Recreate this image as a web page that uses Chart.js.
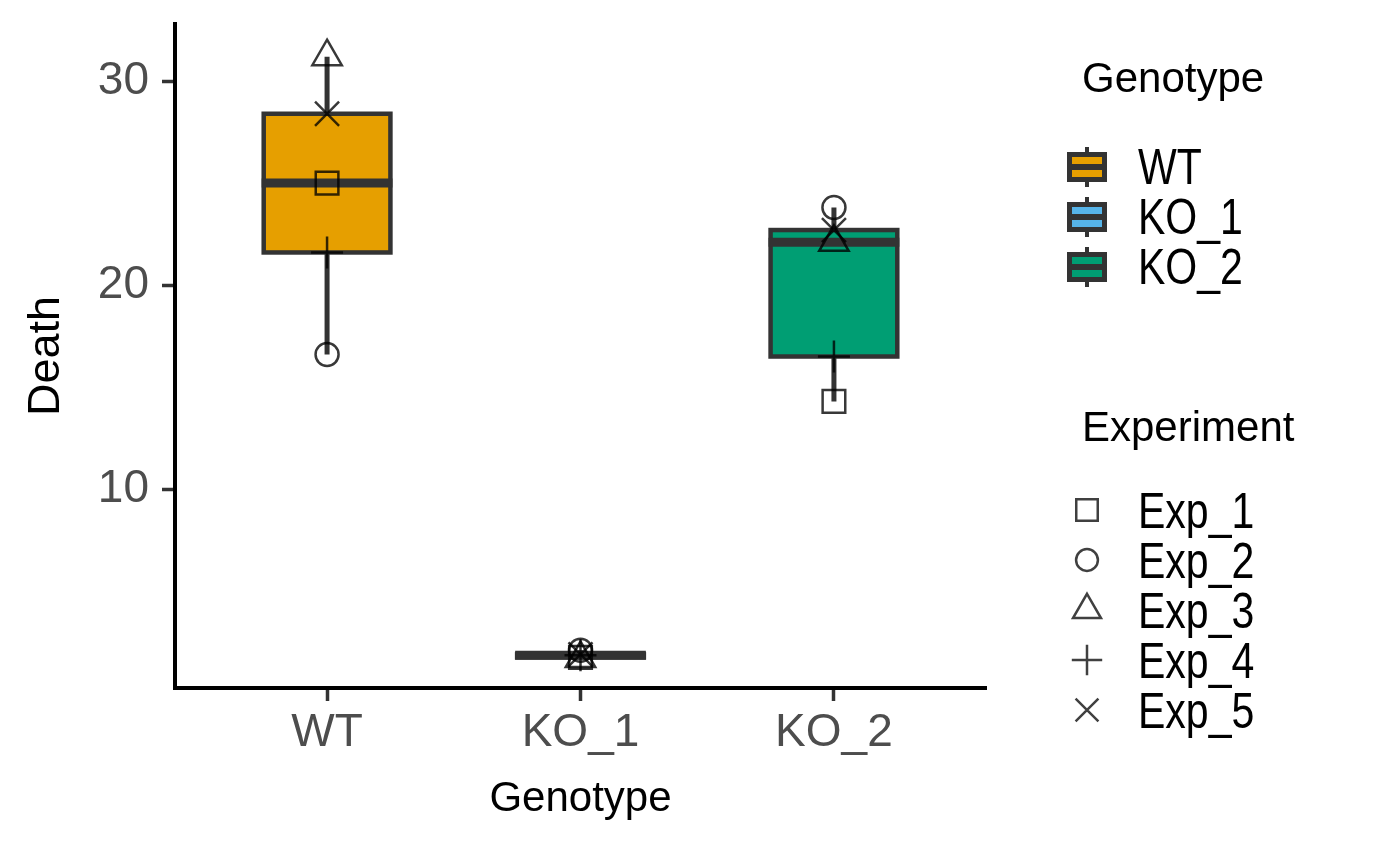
<!DOCTYPE html>
<html>
<head>
<meta charset="utf-8">
<script src="https://cdn.jsdelivr.net/npm/chart.js@4.4.0/dist/chart.umd.min.js"></script>
<style>
  body { margin: 0; background: #fff; }
  #wrap { width: 1400px; height: 866px; }
</style>
</head>
<body>
<div id="wrap"><canvas id="chart" width="1400" height="866"></canvas></div>
<script>
// data
const genotypes = ["WT", "KO_1", "KO_2"];
const experiments = ["Exp_1", "Exp_2", "Exp_3", "Exp_4", "Exp_5"];
const wtDeath = [25.0, 16.6, 31.2, 21.6, 28.4];
const ko1Death = [1.75, 2.1, 1.7, 1.85, 1.9];
const ko2Death = [14.3, 23.8, 22.1, 16.5, 22.7];
const yTicks = [10, 20, 30];

const deathByGenotype = [wtDeath, ko1Death, ko2Death];
const boxColors = ["#E69F00", "#56B4E9", "#009E73"];
const shapeStyles = [
  { pointStyle: "rect", radius: 16 },
  { pointStyle: "circle", radius: 11.5 },
  { pointStyle: "triangle", radius: 17 },
  { pointStyle: "cross", radius: 16 },
  { pointStyle: "crossRot", radius: 17 },
];
const darkLine = "#333333";
const pointColor = "rgba(0,0,0,0.78)";
const fontFamily = "'Liberation Sans', Arial, sans-serif";

Chart.defaults.font.family = fontFamily;

// quantile type 7 (same as R default)
function quantile(values, p) {
  const s = [...values].sort((a, b) => a - b);
  const h = (s.length - 1) * p;
  const lo = Math.floor(h);
  const hi = Math.min(lo + 1, s.length - 1);
  return s[lo] + (h - lo) * (s[hi] - s[lo]);
}

function boxStats(values) {
  const q1 = quantile(values, 0.25);
  const q3 = quantile(values, 0.75);
  const med = quantile(values, 0.5);
  const iqr = q3 - q1;
  const inRange = values.filter(v => v >= q1 - 1.5 * iqr && v <= q3 + 1.5 * iqr);
  return { q1, q3, med, lo: Math.min(...inRange), hi: Math.max(...inRange) };
}

const boxplotPlugin = {
  id: "boxplot",
  beforeDatasetsDraw(chart) {
    const ctx = chart.ctx;
    const xs = chart.scales.x;
    const ys = chart.scales.y;
    ctx.save();
    deathByGenotype.forEach((vals, i) => {
      const st = boxStats(vals);
      const cx = xs.getPixelForValue(i + 1);
      const x0 = xs.getPixelForValue(i + 1 - 0.25);
      const x1 = xs.getPixelForValue(i + 1 + 0.25);
      ctx.strokeStyle = darkLine;
      ctx.lineCap = "butt";
      // whiskers
      ctx.lineWidth = 5;
      ctx.beginPath();
      ctx.moveTo(cx, ys.getPixelForValue(st.hi));
      ctx.lineTo(cx, ys.getPixelForValue(st.q3));
      ctx.moveTo(cx, ys.getPixelForValue(st.q1));
      ctx.lineTo(cx, ys.getPixelForValue(st.lo));
      ctx.stroke();
      // box
      const yTop = ys.getPixelForValue(st.q3);
      const yBot = ys.getPixelForValue(st.q1);
      ctx.fillStyle = boxColors[i];
      ctx.fillRect(x0, yTop, x1 - x0, yBot - yTop);
      ctx.lineWidth = 4.5;
      ctx.strokeRect(x0, yTop, x1 - x0, yBot - yTop);
      // median
      const ym = ys.getPixelForValue(st.med);
      ctx.lineWidth = 9;
      ctx.beginPath();
      ctx.moveTo(x0 - 2, ym);
      ctx.lineTo(x1 + 2, ym);
      ctx.stroke();
    });
    ctx.restore();
  },
};

// legend labels in the reference use a condensed face
function narrowText(ctx, text, x, y) {
  ctx.save();
  ctx.translate(x, y);
  ctx.scale(0.82, 1);
  ctx.fillText(text, 0, 0);
  ctx.restore();
}

const legendPlugin = {
  id: "sideLegend",
  afterDraw(chart) {
    const ctx = chart.ctx;
    ctx.save();
    ctx.textAlign = "left";
    ctx.textBaseline = "alphabetic";
    ctx.fillStyle = "#000";
    ctx.font = "42px " + fontFamily;
    ctx.fillText("Genotype", 1082, 92);
    ctx.fillText("Experiment", 1082, 441);

    ctx.font = "50px " + fontFamily;
    genotypes.forEach((g, i) => {
      const cy = 167 + i * 50;
      const cx = 1087;
      ctx.strokeStyle = darkLine;
      ctx.lineWidth = 4;
      ctx.beginPath();
      ctx.moveTo(cx, cy - 20);
      ctx.lineTo(cx, cy + 20);
      ctx.stroke();
      ctx.fillStyle = boxColors[i];
      ctx.fillRect(1069.5, cy - 12.5, 35, 25);
      ctx.lineWidth = 5;
      ctx.strokeRect(1069.5, cy - 12.5, 35, 25);
      ctx.lineWidth = 6;
      ctx.beginPath();
      ctx.moveTo(1069, cy);
      ctx.lineTo(1105, cy);
      ctx.stroke();
      ctx.fillStyle = "#000";
      narrowText(ctx, g, 1138, cy + 17);
    });

    experiments.forEach((e, i) => {
      const cy = 510 + i * 50;
      const s = shapeStyles[i];
      ctx.strokeStyle = "rgba(0,0,0,0.75)";
      ctx.fillStyle = "rgba(0,0,0,0)";
      ctx.lineWidth = 2.5;
      Chart.helpers.drawPoint(ctx, {
        pointStyle: s.pointStyle,
        radius: s.radius * 0.95,
        rotation: 0,
        borderWidth: 2.5,
      }, 1087, cy);
      ctx.fillStyle = "#000";
      narrowText(ctx, e, 1138, cy + 18);
    });
    ctx.restore();
  },
};

const datasets = experiments.map((e, j) => ({
  label: e,
  data: deathByGenotype.map((vals, i) => ({ x: i + 1, y: vals[j] })),
  pointStyle: shapeStyles[j].pointStyle,
  pointRadius: shapeStyles[j].radius,
  pointBorderWidth: 2.5,
  pointBorderColor: pointColor,
  pointBackgroundColor: "rgba(0,0,0,0)",
  pointHoverRadius: shapeStyles[j].radius,
}));

new Chart(document.getElementById("chart"), {
  type: "scatter",
  data: { datasets },
  plugins: [boxplotPlugin, legendPlugin],
  options: {
    responsive: false,
    animation: false,
    events: [],
    layout: { padding: { top: 24, right: 414, left: 0, bottom: 0 } },
    plugins: { legend: { display: false }, tooltip: { enabled: false } },
    scales: {
      x: {
        type: "linear",
        min: 0.4,
        max: 3.6,
        afterBuildTicks: (scale) => {
          scale.ticks = genotypes.map((g, i) => ({ value: i + 1 }));
        },
        afterFit: (scale) => {
          scale.height = 178;
          scale.paddingLeft = 0;
          scale.paddingRight = 0;
        },
        ticks: {
          callback: (v) => genotypes[v - 1],
          color: "#4D4D4D",
          font: { size: 46, lineHeight: 1 },
          padding: 9,
          maxRotation: 0,
          autoSkip: false,
        },
        grid: {
          drawOnChartArea: false,
          drawTicks: true,
          tickLength: 13,
          tickWidth: 3.5,
          tickColor: darkLine,
        },
        border: { display: true, color: "#000", width: 4 },
        title: {
          display: true,
          text: "Genotype",
          color: "#000",
          font: { size: 42, lineHeight: 1.2 },
          padding: { top: 0, bottom: 41 },
        },
      },
      y: {
        min: 0.25,
        max: 32.8,
        afterBuildTicks: (scale) => {
          scale.ticks = yTicks.map(v => ({ value: v }));
        },
        afterFit: (scale) => {
          scale.width = 175;
          scale.paddingTop = 0;
          scale.paddingBottom = 0;
        },
        ticks: {
          color: "#4D4D4D",
          font: { size: 46, lineHeight: 1 },
          padding: 13,
        },
        grid: {
          drawOnChartArea: false,
          drawTicks: true,
          tickLength: 13,
          tickWidth: 3.5,
          tickColor: darkLine,
        },
        border: { display: true, color: "#000", width: 4 },
        title: {
          display: true,
          text: "Death",
          color: "#000",
          font: { size: 45, lineHeight: 1.2 },
          padding: { top: 20, bottom: 0 },
        },
      },
    },
  },
});
</script>
</body>
</html>
